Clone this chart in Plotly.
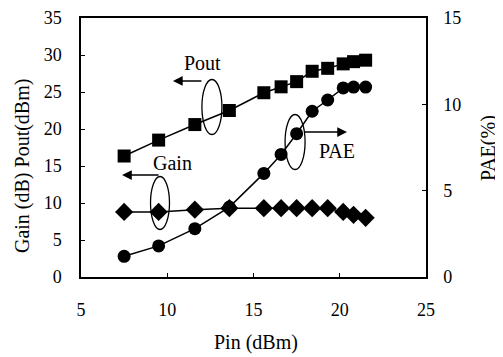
import plotly.graph_objects as go

pin = [7.5, 9.5, 11.6, 13.6, 15.6, 16.6, 17.5, 18.4, 19.3, 20.2, 20.8, 21.5]
pout = [16.35, 18.5, 20.6, 22.5, 24.9, 25.7, 26.4, 27.8, 28.2, 28.8, 29.1, 29.3]
gain = [8.8, 8.8, 9.1, 9.3, 9.3, 9.3, 9.3, 9.3, 9.3, 8.8, 8.4, 8.0]
pae = [1.2, 1.8, 2.8, 4.05, 6.0, 7.1, 8.3, 9.6, 10.25, 10.95, 11.0, 11.0]

x_ticks = [5, 10, 15, 20, 25]
y_ticks = [0, 5, 10, 15, 20, 25, 30, 35]
y2_ticks = [0, 5, 10, 15]

FONT = "Liberation Serif"
line = dict(color="black", width=1.5)

fig = go.Figure()
fig.add_trace(go.Scatter(x=pin, y=pout, mode="lines+markers", line=line,
                         marker=dict(symbol="square", size=13, color="black"), name="Pout"))
fig.add_trace(go.Scatter(x=pin, y=gain, mode="lines+markers", line=line,
                         marker=dict(symbol="diamond", size=14, color="black"), name="Gain"))
fig.add_trace(go.Scatter(x=pin, y=pae, mode="lines+markers", line=line, yaxis="y2",
                         marker=dict(symbol="circle", size=13, color="black"), name="PAE"))

axis_common = dict(showgrid=False, zeroline=False, showline=True, linecolor="black",
                   linewidth=1.5, ticks="inside", ticklen=4, tickcolor="black",
                   automargin=False,
                   tickfont=dict(family=FONT, size=18, color="black"))

# page body adds an 8px offset, so the figure is 8px smaller and margins shifted
fig.update_layout(
    width=495, height=349,
    margin=dict(l=73, r=77, t=10, b=80),
    paper_bgcolor="white", plot_bgcolor="white",
    showlegend=False,
    xaxis=dict(range=[5, 25], tickvals=x_ticks, mirror=True, ticklabelstandoff=16, **axis_common),
    yaxis=dict(range=[0, 35], tickvals=y_ticks, ticklabelstandoff=14, **axis_common),
    yaxis2=dict(range=[0, 15], tickvals=y2_ticks, overlaying="y", side="right",
                ticklabelstandoff=12, **axis_common),
)

tf = dict(family=FONT, size=20, color="black")
# Labels and arrows
fig.add_annotation(x=12.07, y=28.9, text="Pout", showarrow=False, font=tf)
fig.add_annotation(x=10.33, y=26.5, ax=30, ay=0, text="", showarrow=True,
                   arrowhead=2, arrowsize=1.3, arrowwidth=1.5, arrowcolor="black")
fig.add_annotation(x=10.28, y=15.4, text="Gain", showarrow=False, font=tf)
fig.add_annotation(x=7.38, y=13.78, ax=38, ay=0, text="", showarrow=True,
                   arrowhead=2, arrowsize=1.3, arrowwidth=1.5, arrowcolor="black")
fig.add_annotation(x=19.84, y=17.03, text="PAE", showarrow=False, font=tf)
fig.add_annotation(x=20.42, y=19.59, ax=-44, ay=0, text="", showarrow=True,
                   arrowhead=2, arrowsize=1.3, arrowwidth=1.5, arrowcolor="black")

ell = dict(type="circle", xref="x", yref="y", line=dict(color="black", width=1.3))
fig.add_shape(x0=12.01, x1=13.17, y0=19.26, y1=26.69, **ell)
fig.add_shape(x0=9.03, x1=10.13, y0=6.42, y1=13.58, **ell)
fig.add_shape(x0=16.83, x1=17.99, y0=14.53, y1=21.96, **ell)

# Axis titles
fig.add_annotation(xref="paper", yref="paper", x=-0.168, y=0.4286, text="Gain (dB) Pout(dBm)",
                   textangle=-90, showarrow=False, font=tf, xanchor="center", yanchor="middle")
fig.add_annotation(xref="paper", yref="paper", x=1.18, y=0.498, text="PAE(%)",
                   textangle=-90, showarrow=False, font=tf, xanchor="center", yanchor="middle")
fig.add_annotation(xref="paper", yref="paper", x=0.507, y=-0.251, text="Pin (dBm)",
                   showarrow=False, font=tf, xanchor="center", yanchor="middle")

fig.write_html("out.html")
